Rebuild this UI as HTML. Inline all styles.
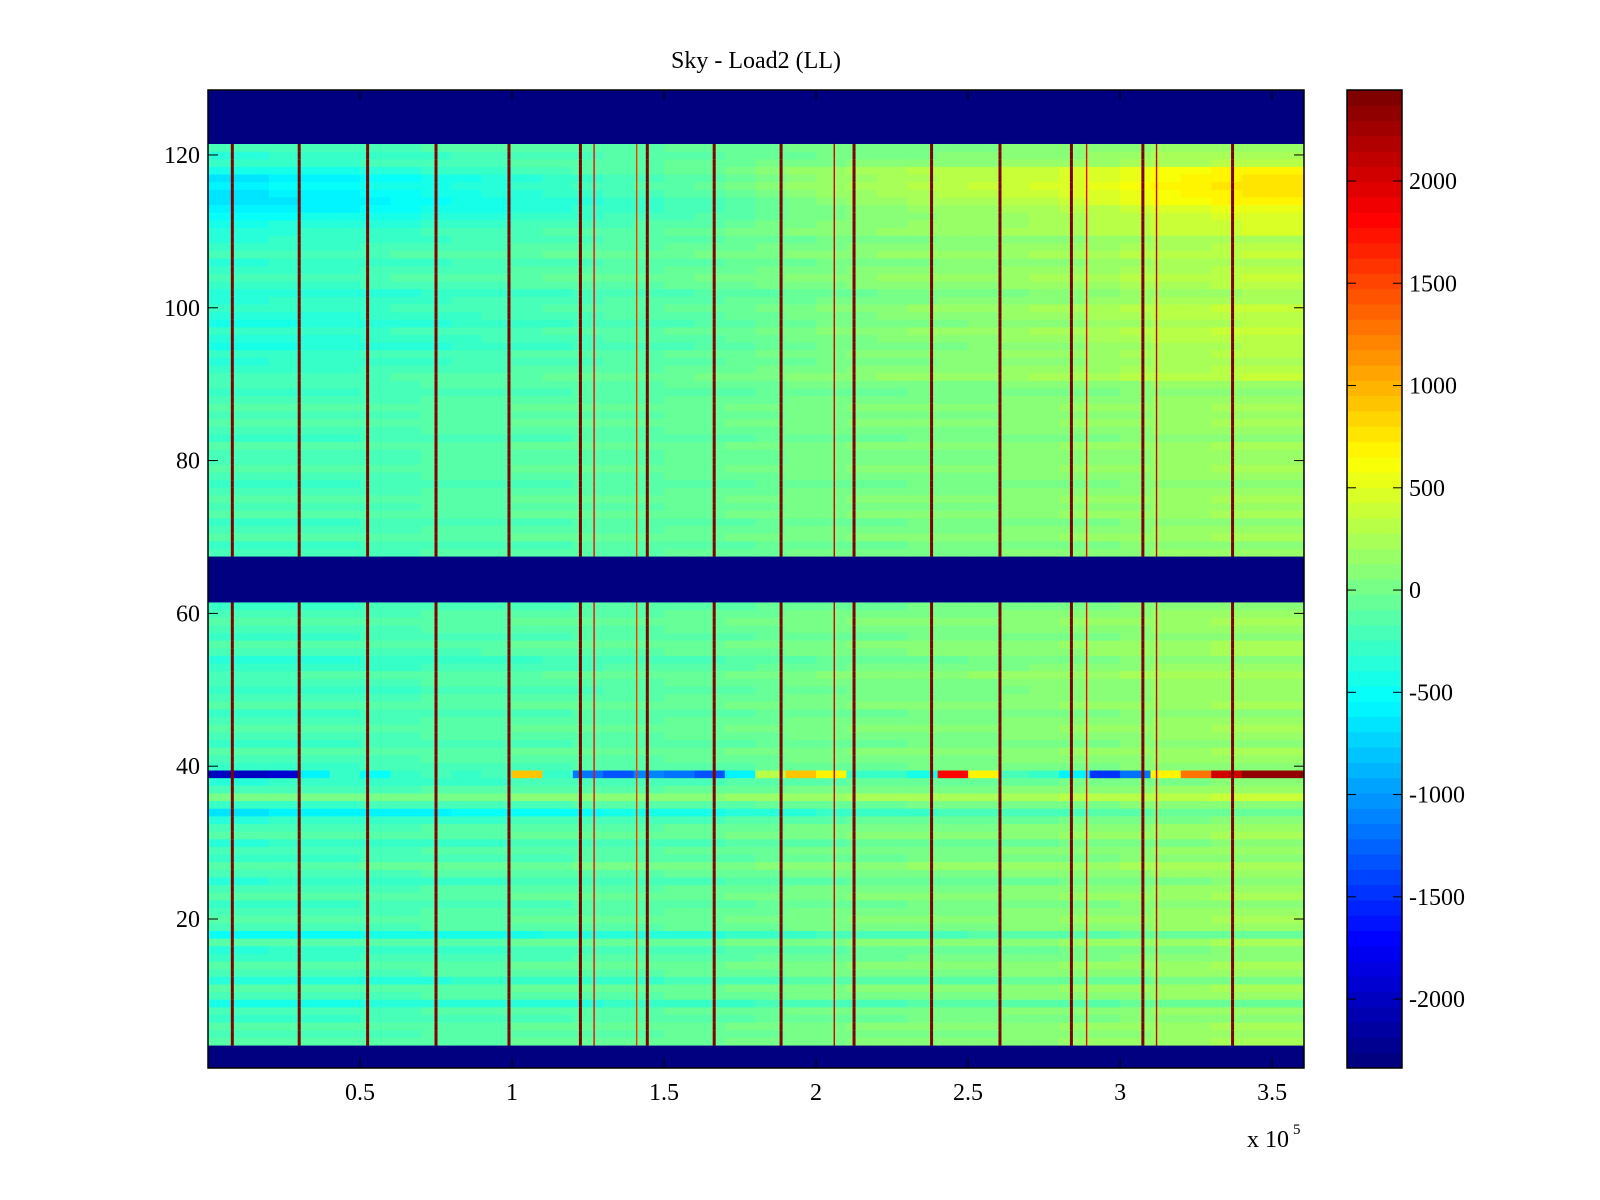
<!DOCTYPE html>
<html><head><meta charset="utf-8"><style>
body{margin:0;background:#fff;}
svg{display:block;font-family:"Liberation Serif",serif;}
</style></head><body>
<svg id="chart" width="1600" height="1200" viewBox="0 0 1600 1200" xmlns="http://www.w3.org/2000/svg">
<rect width="1600" height="1200" fill="#fff"/>
<text x="756" y="68" font-size="24" text-anchor="middle">Sky - Load2 (LL)</text>
<g id="cells"></g>
<g id="axes"></g>
<g id="cbar"></g>
</svg>
<script>
// ---- data ----
const xBinStarts = [0,10000,20000,30000,40000,50000,60000,70000,80000,90000,100000,110000,120000,130000,140000,150000,160000,170000,180000,190000,200000,210000,220000,230000,240000,250000,260000,270000,280000,290000,300000,310000,320000,330000,340000,350000];
const colTrend = [-120,-120,-110,-100,-100,-90,-80,-70,-60,-50,-40,-30,-20,-10,0,10,20,40,60,80,100,110,120,130,140,150,160,170,180,200,220,240,250,260,270,270];
const row39 = [-2000,-2000,-1900,-600,-300,-500,-300,-200,-300,-200,900,-300,-1200,-1300,-1100,-1200,-1300,-600,300,900,700,-300,-300,-400,1800,700,-200,-300,-600,-1500,-1200,700,1300,2000,2300,2300];
// row base values rows 1..128
const rowBase = [
-2337,-2337,-2337,-50,-100,-50,-150,-100,-300,-100, // 1-10
-50,-250,-100,-50,-150,-200,-50,-350,-100,-50, // 11-20
-100,-150,-50,-100,-200,-100,0,-150,-100,-200, // 21-30
-50,-100,-200,-450,-150,100,-100,-200,0,-150, // 31-40
-100,-50,-150,-100,-50,-100,-150,-50,-100,-150, // 41-50
-100,-50,-150,-200,-100,-50,-150,-100,-50,-100, // 51-60
-150,-2337,-2337,-2337,-2337,-2337,-2337,-100,-150,-50, // 61-70
-100,-150,-50,-100,-50,-100,-150,-100,-50,-100, // 71-80
-100,-50,-150,-100,-50,-100,-50,-100,-150,-100, // 81-90
-50,-100,-150,-100,-200,-150,-100,-200,-150,-100, // 91-100
-150,-200,-100,-50,-100,-150,-50,-100,-150,-100, // 101-110
-150,-200,-250,-250,-200,-150,-200,-100,-100,-150, // 111-120
-100,-2337,-2337,-2337,-2337,-2337,-2337,-2337 // 121-128
];
const rowAmp = [
1,1,1,1,1,1,1,1,1,1, 1,1,1,1,1,1,1,1.2,1,1, 1,1,1,1,1,1,1,1,1,1,
1,1,1,1.5,1,1,1,1,0,1, 1,1,1,1,1,1,1,1,1,1.2, 1,1.2,1.2,1.2,1.2,1,1,1,1,1,
1,1,1,1,1,1,1,1,1,1, 1,1,1,1,1,1,1,1,1,1, 1,1,1,1,1,1,1,1,1,1,
1.5,1.5,1.5,1.5,1.8,1.8,1.8,1.8,1.8,1.8, 1.5,1.5,1.5,1.5,1.5,1.5,1.5,1.5,1.5,2,
2.2,2.5,3,3.5,3.5,3.5,3.5,3,1.5,1.5, 1,1,1,1,1,1,1,1
];
const spikeX = [8000,30000,52500,75000,99000,122500,144500,166500,188500,212500,238000,260500,284000,307500,337000];
const spikeVal = [2445,2445,2445,2445,2445,2445,2445,2445,2445,2445,2445,2445,2445,2445,2445];
const thinX = [127000,141000,206000,289000,312000];
const thinVal = [1800,1600,2000,1800,2000];
const xTicks = [50000,100000,150000,200000,250000,300000,350000];
const xTickLabels = ["0.5","1","1.5","2","2.5","3","3.5"];
const yTicks = [20,40,60,80,100,120];
const cTicks = [2000,1500,1000,500,0,-500,-1000,-1500,-2000];

// ---- geometry ----
const L=208,R=1304,T=90,B=1068;
const xMax=360500, yMin=0.5, yMax=128.5;
const cMin=-2337, cMax=2445;
const CL=1347, CR=1402;
const xs=v=>L+(v/xMax)*(R-L);
const ys=v=>B-(v-yMin)/(yMax-yMin)*(B-T);
const cs=v=>B-(v-cMin)/(cMax-cMin)*(B-T);
function jet(v){
  let t=(v-cMin)/(cMax-cMin); t=Math.max(0,Math.min(1,t));
  t=Math.min(63,Math.floor(t*64))/63;
  const f=x=>Math.max(0,Math.min(1,x));
  const r=f(Math.min(4*t-1.5,-4*t+4.5)), g=f(Math.min(4*t-0.5,-4*t+3.5)), b=f(Math.min(4*t+0.5,-4*t+2.5));
  return `rgb(${Math.round(r*255)},${Math.round(g*255)},${Math.round(b*255)})`;
}
const NS="http://www.w3.org/2000/svg";
function mk(tag,attrs,parent){const e=document.createElementNS(NS,tag);for(const k in attrs)e.setAttribute(k,attrs[k]);parent.appendChild(e);return e;}
const cells=document.getElementById('cells');
for(let r=0;r<rowBase.length;r++){
  const row=r+1, dark=rowBase[r]<=cMin;
  for(let c=0;c<xBinStarts.length;c++){
    let v;
    if(dark) v=cMin; else if(row===39) v=row39[c]; else v=rowBase[r]+colTrend[c]*rowAmp[r];
    const x0=xs(xBinStarts[c]), x1=c+1<xBinStarts.length?xs(xBinStarts[c+1]):R;
    const el=mk('rect',{x:x0,y:ys(row+0.5),width:x1-x0+0.5,height:ys(row-0.5)-ys(row+0.5)+0.5,fill:jet(v)},cells);
    
    
  }
  if(!dark){
    for(let i=0;i<spikeX.length;i++){
      const el=mk('rect',{x:xs(spikeX[i])-1.5,y:ys(row+0.5),width:3,height:ys(row-0.5)-ys(row+0.5)+0.5,fill:jet(spikeVal[i])},cells);
      
      
    }
    for(let i=0;i<thinX.length;i++){
      const el=mk('rect',{x:xs(thinX[i])-0.7,y:ys(row+0.5),width:1.4,height:ys(row-0.5)-ys(row+0.5)+0.5,fill:jet(thinVal[i])},cells);
      
      
    }
  }
}
const axes=document.getElementById('axes');
mk('rect',{x:L,y:T,width:R-L,height:B-T,fill:'none',stroke:'#000','stroke-width':1.5},axes);
xTicks.forEach((v,i)=>{
  const x=xs(v);
  mk('line',{x1:x,x2:x,y1:B,y2:B-10,stroke:'#000'},axes);
  mk('line',{x1:x,x2:x,y1:T,y2:T+10,stroke:'#000'},axes);
  const t=mk('text',{x:x,y:B+32,'font-size':24,'text-anchor':'middle'},axes);t.textContent=xTickLabels[i];
  
  
});
yTicks.forEach(v=>{
  const y=ys(v);
  mk('line',{x1:L,x2:L+10,y1:y,y2:y,stroke:'#000'},axes);
  mk('line',{x1:R,x2:R-10,y1:y,y2:y,stroke:'#000'},axes);
  const t=mk('text',{x:L-8,y:y+8,'font-size':24,'text-anchor':'end'},axes);t.textContent=v;
  
  
});
const ex=mk('text',{x:1247,y:1147,'font-size':24},axes);ex.textContent='x 10';


const ex2=mk('text',{x:1293,y:1134,'font-size':15},axes);ex2.textContent='5';


const cbar=document.getElementById('cbar');
for(let i=0;i<64;i++){
  const v0=cMin+(cMax-cMin)*i/64, v1=cMin+(cMax-cMin)*(i+1)/64;
  const el=mk('rect',{x:CL,y:cs(v1),width:CR-CL,height:cs(v0)-cs(v1)+0.5,fill:jet((v0+v1)/2)},cbar);
  
  
}
mk('rect',{x:CL,y:T,width:CR-CL,height:B-T,fill:'none',stroke:'#000','stroke-width':1.5},cbar);
cTicks.forEach(v=>{
  const y=cs(v);
  mk('line',{x1:CL,x2:CL+9,y1:y,y2:y,stroke:'#000'},cbar);
  mk('line',{x1:CR,x2:CR-9,y1:y,y2:y,stroke:'#000'},cbar);
  const t=mk('text',{x:CR+7,y:y+8,'font-size':24},cbar);t.textContent=v;
  
  
});
</script>
</body></html>
